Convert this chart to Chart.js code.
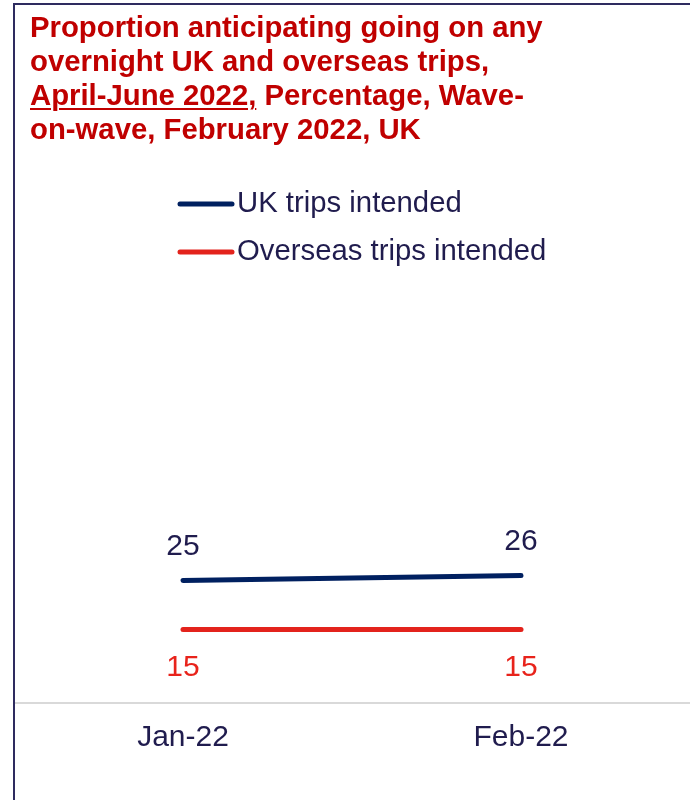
<!DOCTYPE html>
<html>
<head>
<meta charset="utf-8">
<script src="https://cdn.jsdelivr.net/npm/chart.js@4/dist/chart.umd.min.js"></script>
<style>
  html, body { margin: 0; padding: 0; background: #ffffff; }
  #wrap { position: relative; width: 690px; height: 800px; overflow: hidden; }
  canvas { position: absolute; left: 0; top: 0; }
  #frame {
    position: absolute; left: 13px; top: 3px; right: 0; bottom: 0;
    border-left: 2px solid #2e2b5f; border-top: 2px solid #2e2b5f;
    pointer-events: none;
  }
  #title {
    position: absolute; left: 30px; top: 10px;
    font: bold 29.3px 'Liberation Sans', Arial, sans-serif;
    line-height: 34px; color: #c00000; white-space: nowrap;
  }
  #title u { text-decoration-thickness: 2px; text-underline-offset: 3px; }
</style>
</head>
<body>
<div id="wrap">
  <canvas id="chart" width="690" height="800"></canvas>
  <div id="frame"></div>
  <div id="title">Proportion anticipating going on any<br>overnight UK and overseas trips,<br><u>April-June 2022,</u> Percentage, Wave-<br>on-wave, February 2022, UK</div>
</div>
<script>
// Survey waves and the share of respondents (%) planning trips
const categories = ['Jan-22', 'Feb-22'];
const ukTrips = [25, 26];
const overseasTrips = [15, 15];
const seriesNames = ['UK trips intended', 'Overseas trips intended'];

const FONT = "'Liberation Sans', Arial, sans-serif";
const TEXT_DARK = '#201c4e';
const NAVY = '#002060';
const RED = '#e3231c';
const RED_TEXT = '#e8231b';

// Value labels above (UK) or below (overseas) each point
const valueLabels = {
  id: 'valueLabels',
  afterDatasetsDraw(chart) {
    const ctx = chart.ctx;
    ctx.save();
    ctx.font = '30px ' + FONT;
    ctx.textAlign = 'center';
    ctx.textBaseline = 'middle';
    chart.data.datasets.forEach((ds, i) => {
      const meta = chart.getDatasetMeta(i);
      meta.data.forEach((pt, j) => {
        ctx.fillStyle = ds.labelColor;
        ctx.fillText(String(ds.data[j]), pt.x, pt.y + ds.labelOffset);
      });
    });
    ctx.restore();
  }
};

// Legend drawn inside the upper part of the plot area
const insideLegend = {
  id: 'insideLegend',
  afterDraw(chart) {
    const ctx = chart.ctx;
    ctx.save();
    ctx.font = '29.3px ' + FONT;
    ctx.textAlign = 'left';
    ctx.textBaseline = 'middle';
    chart.data.datasets.forEach((ds, i) => {
      const y = 204 + i * 48;
      ctx.strokeStyle = ds.borderColor;
      ctx.lineWidth = 5;
      ctx.lineCap = 'round';
      ctx.beginPath();
      ctx.moveTo(180, y);
      ctx.lineTo(232, y);
      ctx.stroke();
      ctx.fillStyle = TEXT_DARK;
      ctx.fillText(ds.label, 237, y);
    });
    ctx.restore();
  }
};

new Chart(document.getElementById('chart'), {
  type: 'line',
  data: {
    labels: categories,
    datasets: [
      {
        label: seriesNames[0], data: ukTrips,
        borderColor: NAVY, borderWidth: 5, borderCapStyle: 'round',
        pointRadius: 0, tension: 0,
        labelColor: TEXT_DARK, labelOffset: -34
      },
      {
        label: seriesNames[1], data: overseasTrips,
        borderColor: RED, borderWidth: 5, borderCapStyle: 'round',
        pointRadius: 0, tension: 0,
        labelColor: RED_TEXT, labelOffset: 38
      }
    ]
  },
  options: {
    responsive: false,
    animation: false,
    layout: { padding: { left: 14, right: 0, top: 213, bottom: 0 } },
    plugins: {
      legend: { display: false },
      title: { display: false },
      tooltip: { enabled: false }
    },
    scales: {
      x: {
        offset: true,
        grid: { display: false, drawTicks: false },
        border: { display: true, color: '#d9d9d9', width: 2 },
        ticks: { color: TEXT_DARK, font: { family: FONT, size: 30 }, padding: 17 },
        afterFit(scale) { scale.height = 97; }
      },
      y: { display: false, min: 0, max: 100 }
    }
  },
  plugins: [valueLabels, insideLegend]
});
</script>
</body>
</html>
